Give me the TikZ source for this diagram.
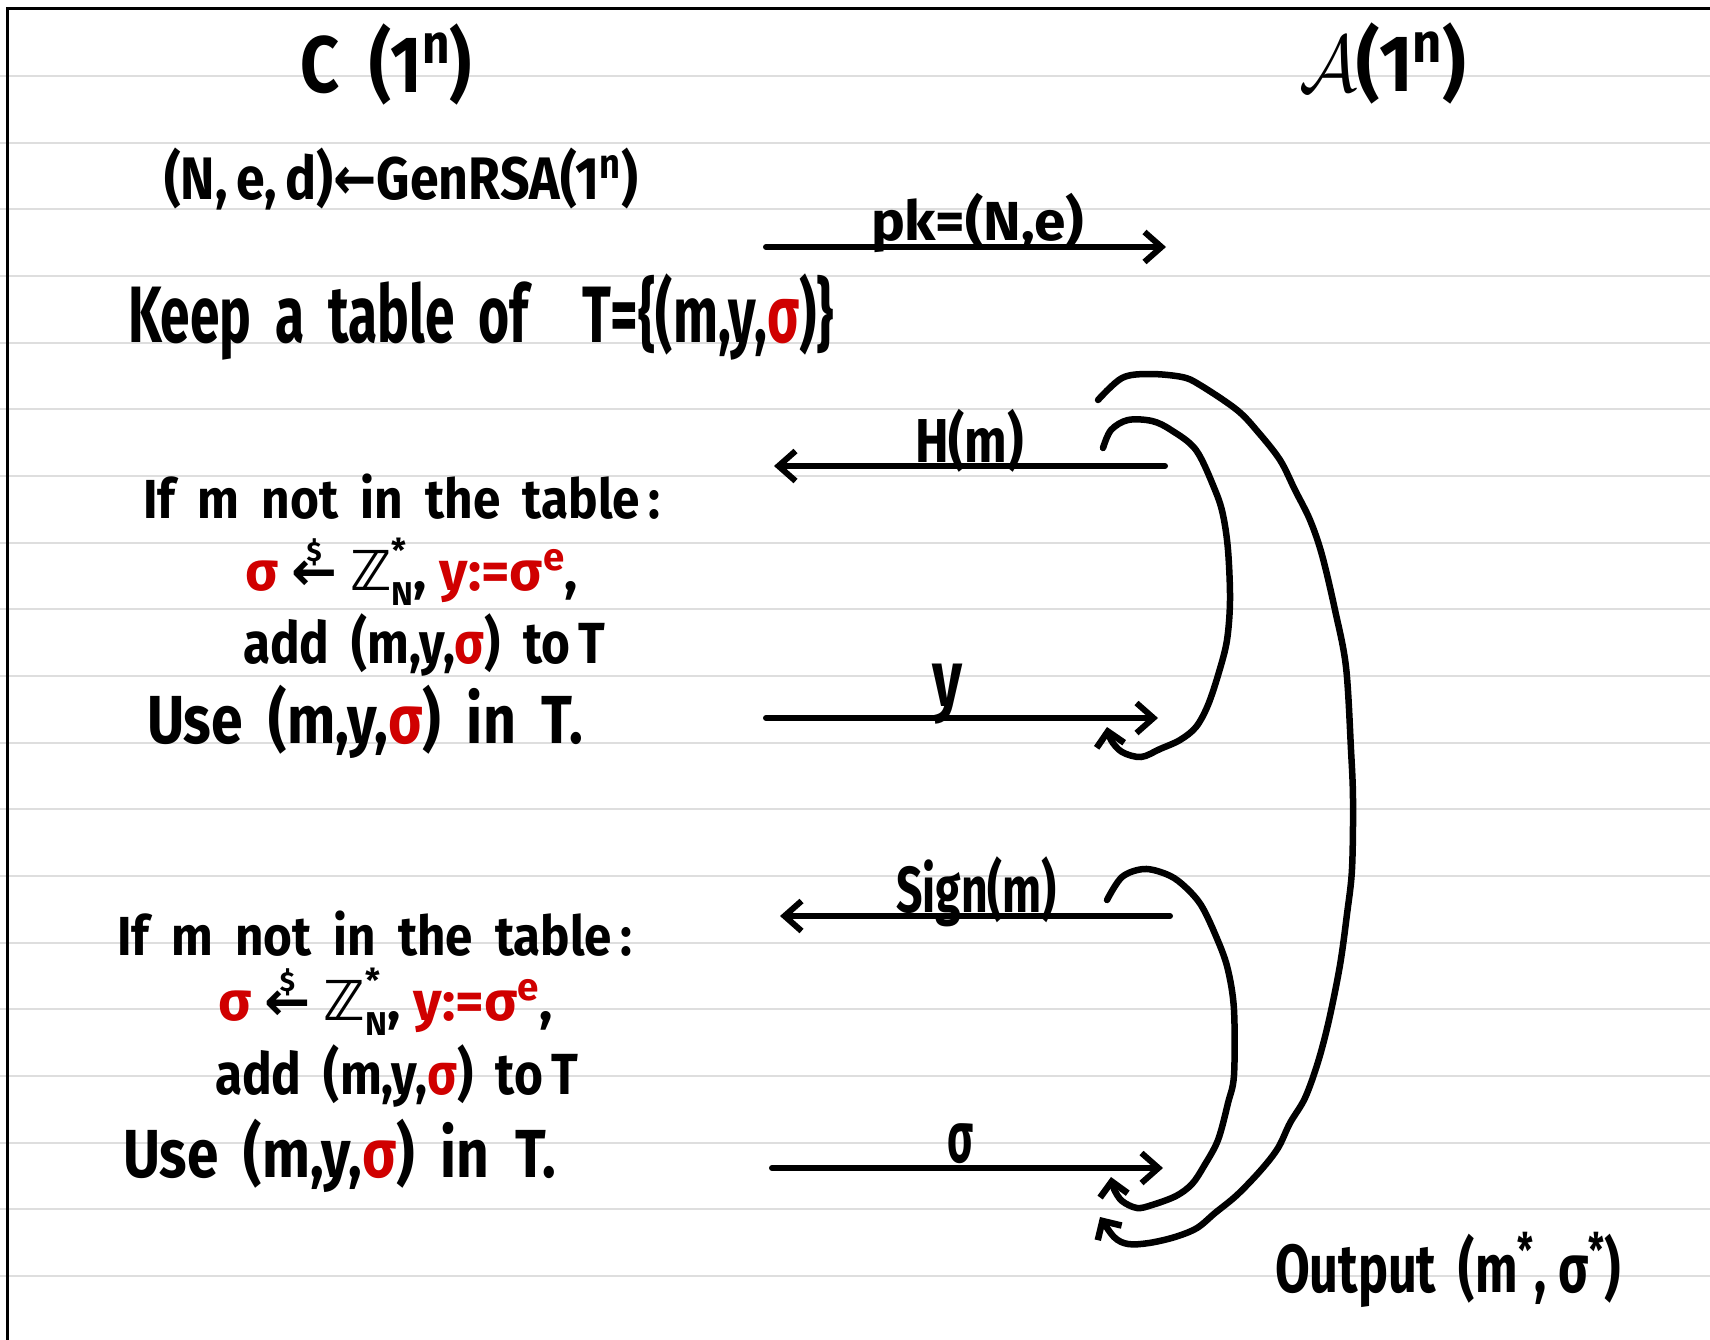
\RequirePackage{fix-cm}
\documentclass[tikz,border=0pt]{standalone}
\usepackage{fontspec}
\setmainfont{Fira Sans}
\newfontfamily\dejavu{DejaVu Sans}
\usepackage{graphicx}
\usetikzlibrary{arrows.meta}
\definecolor{hred}{RGB}{208,0,0}
\definecolor{ruleg}{RGB}{222,222,222}
\newcommand{\fitw}[2]{\resizebox{#1pt}{\height}{#2}}
\newcommand{\rs}{\textcolor{hred}{σ}}
\newcommand{\gp}{\hspace{0.45em}}
\newcommand{\randarr}{\ooalign{\hfil\raisebox{0.52em}{\scalebox{0.5}{\$}}\hfil\cr{\dejavu ←}\cr}}
\newcommand{\ZN}{{\dejavu ℤ}\rlap{\raisebox{0.5em}{\scalebox{0.6}{*}}}\raisebox{-0.28em}{\scalebox{0.6}{N}}}
\newcommand{\fs}[1]{\fontsize{#1}{#1}\selectfont\bfseries}
\tikzset{
  hand/.style={anchor=base west, inner sep=0pt, outer sep=0pt},
  rulel/.style={draw=ruleg, line width=1.8pt},
  frame/.style={draw=black, line width=3.5pt},
  msg/.style={draw=black, line width=6pt, line cap=round},
  tipR/.style={-{Straight Barb[length=17pt,width=30pt,line width=6pt]}},
  curv/.style={draw=black, line width=6.5pt, line cap=round, -{Straight Barb[length=14pt,width=28pt,line width=6.5pt]}}
}
\begin{document}
\begin{tikzpicture}[x=1pt,y=-1pt]
\useasboundingbox (0,0) rectangle (1710,1340);
\fill[white] (0,0) rectangle (1710,1340);
\foreach \k in {0,...,18} \draw[rulel] (0,{76+66.667*\k}) -- (1710,{76+66.667*\k});
\draw[frame] (7.5,1340) -- (7.5,8.5) -- (1710,8.5);

% headers
\node[hand, font=\fs{80}] (chal) at (300,93) {\fitw{172}{C\gp(1\textsuperscript{n})}};
\node[hand, font=\fs{80}] (adv) at (1299,92) {\fitw{167}{$\mathcal{A}$(1\textsuperscript{n})}};

% key generation
\node[hand, font=\fs{60}] (gen) at (164,200) {\fitw{474}{(N,\,e,\,d){\dejavu ←}GenRSA(1\textsuperscript{n})}};

% pk arrow
\coordinate (pkS) at (766,247);
\coordinate (pkE) at (1166,247);
\draw[msg,tipR] (pkS) -- (pkE);
\node[hand, font=\fs{55}] (pkl) at (871,241) {\fitw{213}{pk=(N,e)}};

% table
\node[hand, font=\fs{80}] (keep) at (128,342) {\fitw{706}{Keep\gp a\gp table\gp of\hspace{1em}T=\{(m,y,\rs)\}}};

% H(m) arrow
\coordinate (hS) at (1165,466);
\coordinate (hE) at (774,466);
\draw[msg,tipR] (hS) -- (hE);
\node[hand, font=\fs{62}] (hl) at (915,462) {\fitw{109}{H(m)}};

% block 1
\node[hand, font=\fs{55}] (a1) at (143,518) {\fitw{517}{If\gp m\gp not\gp in\gp the\gp table\,:}};
\node[hand, font=\fs{55}] (a2) at (245,590) {\fitw{333}{\rs\ \randarr\ \ZN,\ \textcolor{hred}{y:=σ\textsuperscript{e}},}};
\node[hand, font=\fs{58}] (a3) at (243,663) {\fitw{362}{add\gp(m,y,\rs)\gp to\,T}};
\node[hand, font=\fs{68}] (a4) at (147,743) {\fitw{436}{Use\gp(m,y,\rs)\gp in\gp T.}};

% y arrow
\coordinate (yS) at (766,718);
\coordinate (yE) at (1158,718);
\draw[msg,tipR] (yS) -- (yE);
\node[hand, font=\fs{80}] (yl) at (932,706) {\fitw{30}{y}};

% Sign arrow
\coordinate (sS) at (1170,916);
\coordinate (sE) at (780,916);
\draw[msg,tipR] (sS) -- (sE);
\node[hand, font=\fs{65}] (sl) at (896,912) {\fitw{161}{Sign(m)}};

% block 2
\node[hand, font=\fs{55}] (b1) at (117,955) {\fitw{515}{If\gp m\gp not\gp in\gp the\gp table\,:}};
\node[hand, font=\fs{55}] (b2) at (218,1020) {\fitw{335}{\rs\ \randarr\ \ZN,\ \textcolor{hred}{y:=σ\textsuperscript{e}},}};
\node[hand, font=\fs{58}] (b3) at (215,1094) {\fitw{363}{add\gp(m,y,\rs)\gp to\,T}};
\node[hand, font=\fs{68}] (b4) at (123,1177) {\fitw{433}{Use\gp(m,y,\rs)\gp in\gp T.}};

% sigma arrow
\coordinate (gS) at (772,1168);
\coordinate (gE) at (1163,1168);
\draw[msg,tipR] (gS) -- (gE);
\node[hand, font=\fs{72}] (gl) at (947,1162) {\fitw{26}{σ}};

% output
\node[hand, font=\fs{68}] (out) at (1275,1292) {\fitw{346}{Output\gp(m\textsuperscript{*},\ σ\textsuperscript{*})}};

% curves
\coordinate (c1s) at (1103,448);
\coordinate (c1e) at (1107,727);
\draw[curv] plot[smooth, tension=0.55] coordinates {(c1s) (1111,430) (1128,420) (1152,421) (1171,430) (1196,450) (1215,490) (1223,515) (1228,550) (1230,600) (1227,640) (1219,672) (1208,705) (1196,727) (1180,740) (1160,749) (1141,757) (1122,752) (1111,740) (c1e)};

\coordinate (c2s) at (1107,900);
\coordinate (c2e) at (1111,1177);
\draw[curv] plot[smooth, tension=0.55] coordinates {(c2s) (1122,877) (1144,869) (1166,874) (1182,884) (1201,905) (1218,941) (1228,970) (1234,1010) (1234,1075) (1228,1103) (1218,1140) (1204,1166) (1192,1184) (1176,1196) (1152,1205) (1137,1208) (1122,1201) (1114,1189) (c2e)};

\coordinate (c3s) at (1098,400);
\coordinate (c3e) at (1100,1217);
\draw[curv] plot[smooth, tension=0.55] coordinates {(c3s) (1122,378) (1149,374) (1182,377) (1200,385) (1237,410) (1258,432) (1280,460) (1295,490) (1310,520) (1322,555) (1335,610) (1346,667) (1351,750) (1353,800) (1352,869) (1347,914) (1340,965) (1329,1020) (1318,1062) (1305,1098) (1290,1123) (1278,1148) (1261,1170) (1237,1195) (1215,1213) (1197,1228) (1175,1237) (1149,1243) (1128,1244) (1114,1237) (c3e)};
\end{tikzpicture}
\end{document}
